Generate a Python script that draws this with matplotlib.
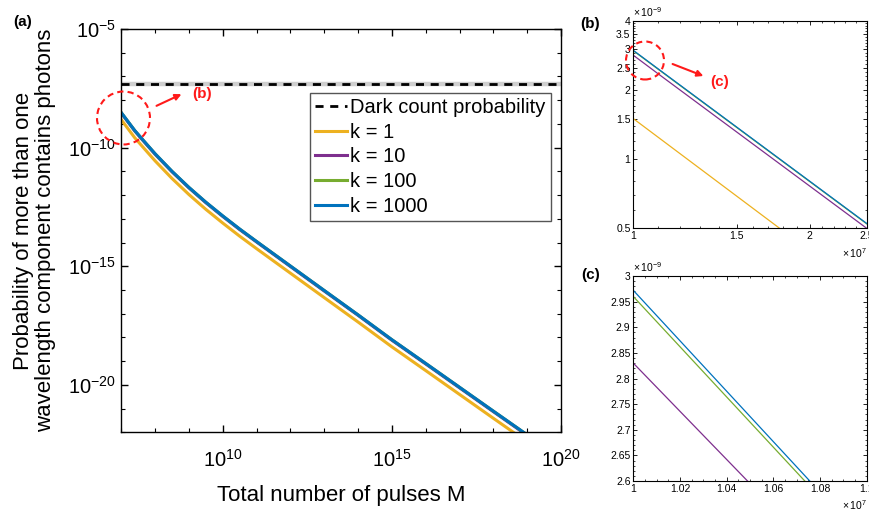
import matplotlib
matplotlib.use("Agg")
import matplotlib.pyplot as plt
from matplotlib.patches import Ellipse
import numpy as np

plt.rcParams["font.family"] = ["Liberation Sans", "DejaVu Sans"]
plt.rcParams["mathtext.default"] = "regular"

# pulses M and probability for each k
M = [1e7, 1.1e7, 2.5e7, 4.5e7, 1e8, 3.16e8, 1e9, 3.16e9, 1e10, 3.16e10,
     1e11, 1e12, 1e13, 1e14, 1e15, 1e16, 1e17, 1e18, 1e19]
P_k1 = [1.50e-9, 1.25e-9, 2.6e-10, 1.0e-10, 2.75e-11, 5.0e-12, 1.05e-12, 2.5e-13,
        6.6e-14, 1.85e-14, 5.5e-15, 5.1e-16, 4.75e-17, 4.45e-18, 4.0e-19,
        4.0e-20, 3.95e-21, 3.9e-22, 3.9e-23]
P_k10 = [2.83e-9, 2.36e-9, 5.0e-10, 1.9e-10, 5.2e-11, 9.5e-12, 2.0e-12, 4.75e-13,
         1.25e-13, 3.5e-14, 1.05e-14, 9.7e-16, 9.0e-17, 8.5e-18, 7.6e-19,
         7.6e-20, 7.5e-21, 7.4e-22, 7.4e-23]
P_k100 = [2.96e-9, 2.47e-9, 5.23e-10, 1.99e-10, 5.48e-11, 9.96e-12, 2.09e-12,
          4.98e-13, 1.31e-13, 3.68e-14, 1.1e-14, 1.02e-15, 9.5e-17, 8.9e-18,
          8.0e-19, 8.0e-20, 7.9e-21, 7.8e-22, 7.8e-23]
P_k1000 = [2.972e-9, 2.48e-9, 5.25e-10, 2.0e-10, 5.5e-11, 1.0e-11, 2.1e-12,
           5.0e-13, 1.32e-13, 3.7e-14, 1.1e-14, 1.02e-15, 9.5e-17, 8.9e-18,
           8.0e-19, 8.0e-20, 7.9e-21, 7.8e-22, 7.8e-23]
dark_count = 5e-8

labels = ["k = 1", "k = 10", "k = 100", "k = 1000"]
colors = ["#EDB120", "#7E2F8E", "#77AC30", "#0072BD"]
series = [P_k1, P_k10, P_k100, P_k1000]

W, H = 870, 512
fig = plt.figure(figsize=(W / 100, H / 100), dpi=100)

def px_box(x0, y0, x1, y1):
    return [x0 / W, 1 - y1 / H, (x1 - x0) / W, (y1 - y0) / H]

# ---- (a) main panel
ax = fig.add_axes(px_box(121.3, 29, 561, 432.3))
ax.plot([1e7, 1e20], [dark_count] * 2, color="#cfcfcf", lw=3.2, zorder=1)
ax.plot([1e7, 1e20], [dark_count] * 2, color="black", lw=2,
        linestyle=(0, (2.9, 2.4)), label="Dark count probability", zorder=2)
for p, c, l in zip(series, colors, labels):
    ax.plot(M, p, color=c, lw=2.2, label=l)
ax.set_xscale("log"); ax.set_yscale("log")
ax.set_xlim(1e7, 1e20); ax.set_ylim(1e-22, 1e-5)
ax.set_xticks([1e10, 1e15, 1e20])
ax.set_yticks([1e-5, 1e-10, 1e-15, 1e-20])
ax.xaxis.set_minor_locator(matplotlib.ticker.FixedLocator([10.0 ** e for e in range(7, 21)]))
ax.yaxis.set_minor_locator(matplotlib.ticker.FixedLocator([10.0 ** e for e in range(-22, -4)]))
ax.xaxis.set_minor_formatter(matplotlib.ticker.NullFormatter())
ax.yaxis.set_minor_formatter(matplotlib.ticker.NullFormatter())
ax.tick_params(which="both", direction="in", top=True, right=True, labelsize=14.5)
ax.tick_params(which="major", length=5, width=1)
ax.tick_params(which="minor", length=3, width=0.8)
ax.tick_params(axis="x", which="major", pad=12)
ax.tick_params(axis="y", which="major", pad=4)
for s in ax.spines.values():
    s.set_linewidth(1)
ax.set_xlabel("Total number of pulses M", fontsize=16, labelpad=10)
ax.set_ylabel("Probability of more than one\nwavelength component contains photons",
              fontsize=16, linespacing=1.05)
ax.yaxis.set_label_coords(-0.148, 0.5)
leg = ax.legend(loc="upper right", bbox_to_anchor=(0.977, 0.841), borderaxespad=0,
                fontsize=14.5, fancybox=False, edgecolor="#555555", framealpha=1,
                handlelength=1.6, handletextpad=0.15, labelspacing=0.28,
                borderpad=0.25)
leg.get_frame().set_linewidth(1)

# ---- (b) inset
axb = fig.add_axes(px_box(633.3, 20.7, 866.7, 228.3))
for p, c in zip(series, colors):
    axb.plot(np.array(M) / 1e7, np.array(p) / 1e-9, color=c, lw=0.9)
axb.set_xscale("log"); axb.set_yscale("log")
axb.set_xlim(1, 2.5); axb.set_ylim(0.5, 4)
axb.set_xticks([1, 1.5, 2, 2.5]); axb.set_xticklabels(["1", "1.5", "2", "2.5"])
axb.set_yticks([0.5, 1, 1.5, 2, 2.5, 3, 3.5, 4])
axb.set_yticklabels(["0.5", "1", "1.5", "2", "2.5", "3", "3.5", "4"])
axb.xaxis.set_minor_locator(matplotlib.ticker.FixedLocator(np.arange(1.1, 2.5, 0.1)))
axb.yaxis.set_minor_locator(matplotlib.ticker.FixedLocator(np.arange(0.6, 4.0, 0.1)))
axb.xaxis.set_minor_formatter(matplotlib.ticker.NullFormatter())
axb.yaxis.set_minor_formatter(matplotlib.ticker.NullFormatter())

# ---- (c) inset
axc = fig.add_axes(px_box(633.3, 276, 866.7, 481))
for p, c in zip(series, colors):
    axc.plot(np.array(M) / 1e7, np.array(p) / 1e-9, color=c, lw=0.9)
axc.set_xlim(1, 1.1); axc.set_ylim(2.6, 3.0)
axc.set_xticks([1, 1.02, 1.04, 1.06, 1.08, 1.1])
axc.set_xticklabels(["1", "1.02", "1.04", "1.06", "1.08", "1.1"])
axc.set_yticks([2.6, 2.65, 2.7, 2.75, 2.8, 2.85, 2.9, 2.95, 3.0])
axc.set_yticklabels(["2.6", "2.65", "2.7", "2.75", "2.8", "2.85", "2.9", "2.95", "3"])
axc.xaxis.set_minor_locator(matplotlib.ticker.AutoMinorLocator(4))
axc.yaxis.set_minor_locator(matplotlib.ticker.AutoMinorLocator(5))

for a in (axb, axc):
    a.tick_params(which="both", direction="in", top=True, right=True,
                  labelsize=7.5, pad=2)
    a.tick_params(which="major", length=3, width=0.6)
    a.tick_params(which="minor", length=1.5, width=0.5)
    for s in a.spines.values():
        s.set_linewidth(0.8)
    a.text(0.0, 1.01, r"$\times\,10^{-9}$", transform=a.transAxes, fontsize=7.5,
           ha="left", va="bottom")
    a.text(1.0, -0.085, r"$\times\,10^{7}$", transform=a.transAxes, fontsize=7.5,
           ha="right", va="top")

# ---- panel labels and red callouts
fig.text(23 / W, 1 - 22 / H, "(a)", fontsize=11, fontweight="bold", ha="center", va="center")
fig.text(590 / W, 1 - 24 / H, "(b)", fontsize=11, fontweight="bold", ha="center", va="center")
fig.text(591 / W, 1 - 275 / H, "(c)", fontsize=11, fontweight="bold", ha="center", va="center")

red = "#ff1a1a"
for cx, cy, r in [(123.5, 118, 26.5), (645, 60.5, 19)]:
    fig.add_artist(Ellipse((cx / W, 1 - cy / H), 2 * r / W, 2 * r / H,
                           transform=fig.transFigure, fill=False, ec=red,
                           lw=1.5, ls=(0, (3, 2))))
for (x0, y0), (x1, y1) in [((154, 107), (184, 93)), ((670, 63), (706, 77))]:
    fig.add_artist(matplotlib.patches.FancyArrowPatch(
        (x0 / W, 1 - y0 / H), (x1 / W, 1 - y1 / H), transform=fig.transFigure,
        arrowstyle="-|>", mutation_scale=9, color=red, lw=1.5))
fig.text(202 / W, 1 - 94 / H, "(b)", color=red, fontsize=11, fontweight="bold",
         ha="center", va="center")
fig.text(720 / W, 1 - 82 / H, "(c)", color=red, fontsize=11, fontweight="bold",
         ha="center", va="center")

fig.savefig("out.png", dpi=100)
